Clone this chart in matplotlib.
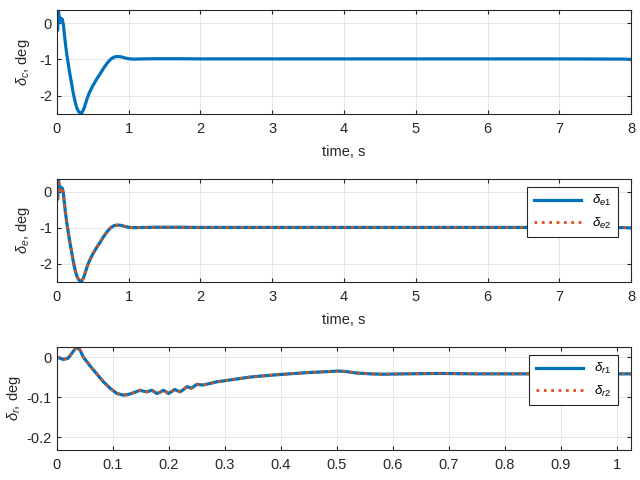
import matplotlib
matplotlib.use("Agg")
import matplotlib.pyplot as plt

# delta_c (deg) vs time (s), also used for the two coinciding elevator traces
t_c = [0, 0.01, 0.02, 0.03, 0.045, 0.06, 0.075, 0.09, 0.1, 0.12, 0.14, 0.16, 0.18,
       0.2, 0.22, 0.24, 0.26, 0.28, 0.3, 0.32, 0.34, 0.36, 0.38, 0.4, 0.42, 0.44,
       0.46, 0.48, 0.5, 0.53, 0.56, 0.6, 0.65, 0.7, 0.75, 0.8, 0.85, 0.9, 0.95,
       1.0, 1.05, 1.1, 1.2, 1.4, 1.7, 2.0, 3.0, 4.0, 5.0, 6.0, 7.0, 7.9, 8.0]
delta_c = [0.0, -0.2, 0.35, 0.2, 0.05, 0.13, 0.1, -0.05, -0.25, -0.6, -0.9, -1.15,
           -1.4, -1.62, -1.85, -2.05, -2.22, -2.35, -2.43, -2.47, -2.48, -2.42,
           -2.33, -2.2, -2.08, -1.97, -1.88, -1.8, -1.72, -1.62, -1.52, -1.4,
           -1.24, -1.1, -0.99, -0.93, -0.92, -0.93, -0.96, -0.98, -0.99, -0.99,
           -0.985, -0.98, -0.98, -0.985, -0.985, -0.985, -0.985, -0.985, -0.985,
           -0.99, -1.0]
delta_e1 = delta_c
delta_e2 = delta_c

# delta_r (deg) vs time (s)
t_r = [0, 0.011, 0.02, 0.028, 0.035, 0.041, 0.047, 0.059, 0.071, 0.083, 0.095,
       0.107, 0.118, 0.126, 0.133, 0.141, 0.148, 0.154, 0.16, 0.165, 0.169,
       0.174, 0.178, 0.184, 0.19, 0.195, 0.199, 0.205, 0.21, 0.215, 0.22,
       0.226, 0.232, 0.236, 0.24, 0.245, 0.25, 0.255, 0.26, 0.27, 0.285,
       0.3, 0.315, 0.33, 0.345, 0.36, 0.386, 0.415, 0.446, 0.475, 0.502,
       0.515, 0.535, 0.56, 0.583, 0.62, 0.684, 0.75, 0.85, 0.95, 1.025]
delta_r1 = [0.0, -0.006, -0.003, 0.012, 0.025, 0.018, 0.0, -0.022, -0.042,
            -0.062, -0.078, -0.091, -0.095, -0.094, -0.091, -0.087, -0.083,
            -0.085, -0.087, -0.085, -0.083, -0.087, -0.091, -0.088, -0.083,
            -0.087, -0.091, -0.086, -0.081, -0.084, -0.087, -0.081, -0.074,
            -0.076, -0.078, -0.073, -0.068, -0.069, -0.07, -0.067, -0.062,
            -0.059, -0.056, -0.053, -0.05, -0.048, -0.045, -0.042, -0.039,
            -0.037, -0.035, -0.036, -0.04, -0.042, -0.043, -0.042, -0.041,
            -0.042, -0.042, -0.042, -0.042]
delta_r2 = delta_r1

plt.rcParams['font.family'] = ['Liberation Sans', 'DejaVu Sans']
plt.rcParams['axes.unicode_minus'] = False
plt.rcParams['mathtext.fontset'] = 'custom'
plt.rcParams['mathtext.rm'] = 'Liberation Sans'
plt.rcParams['mathtext.it'] = 'Liberation Sans:italic'

blue = '#0072BD'
orange = '#D95319'
txt = '#262626'

fig = plt.figure(figsize=(6.4, 4.8), dpi=100)
ax1 = fig.add_axes([0.089, 0.7625, 0.897, 0.2167])
ax2 = fig.add_axes([0.089, 0.4125, 0.897, 0.2146])
ax3 = fig.add_axes([0.089, 0.0625, 0.897, 0.2146])


def style(ax):
    ax.grid(True, color='#e6e6e6', linewidth=0.7)
    ax.set_axisbelow(True)
    ax.tick_params(direction='in', top=True, right=True, labelsize=10.5,
                   colors=txt, length=3)
    ax.tick_params(axis='x', pad=6)
    for s in ax.spines.values():
        s.set_color(txt)
        s.set_linewidth(0.8)


ax1.plot(t_c, delta_c, color=blue, lw=2.3)
ax1.set_xlim(0, 8)
ax1.set_ylim(-2.5, 0.36)
ax1.set_yticks([-2, -1, 0])
ax1.set_xticks(range(9))
ax1.set_ylabel(r'$\delta_c$, deg', fontsize=10.5, color=txt, labelpad=5)
ax1.set_xlabel('time, s', fontsize=10.5, color=txt, labelpad=6)
style(ax1)

ax2.plot(t_c, delta_e1, color=blue, lw=2.3, label=r'$\delta_{e1}$')
ax2.plot(t_c, delta_e2, color=orange, lw=2.0, ls=':', label=r'$\delta_{e2}$')
ax2.set_xlim(0, 8)
ax2.set_ylim(-2.5, 0.36)
ax2.set_yticks([-2, -1, 0])
ax2.set_xticks(range(9))
ax2.set_ylabel(r'$\delta_e$, deg', fontsize=10.5, color=txt, labelpad=5)
ax2.set_xlabel('time, s', fontsize=10.5, color=txt, labelpad=6)
style(ax2)
leg = ax2.legend(loc='upper right', bbox_to_anchor=(0.977, 0.925), borderaxespad=0,
                 fontsize=9.5, handlelength=3.6, fancybox=False, framealpha=1,
                 edgecolor=txt, labelspacing=0.55, borderpad=0.5)
leg.get_frame().set_linewidth(0.8)

ax3.plot(t_r, delta_r1, color=blue, lw=2.3, label=r'$\delta_{r1}$')
ax3.plot(t_r, delta_r2, color=orange, lw=2.0, ls=':', label=r'$\delta_{r2}$')
ax3.set_xlim(0, 1.025)
ax3.set_ylim(-0.232, 0.025)
ax3.set_yticks([-0.2, -0.1, 0])
ax3.set_yticklabels(['-0.2', '-0.1', '0'])
ax3.set_xticks([0, 0.1, 0.2, 0.3, 0.4, 0.5, 0.6, 0.7, 0.8, 0.9, 1])
ax3.set_xticklabels(['0', '0.1', '0.2', '0.3', '0.4', '0.5', '0.6', '0.7',
                     '0.8', '0.9', '1'])
ax3.set_ylabel(r'$\delta_r$, deg', fontsize=10.5, color=txt, labelpad=3)
style(ax3)
leg = ax3.legend(loc='upper right', bbox_to_anchor=(0.977, 0.925), borderaxespad=0,
                 fontsize=9.5, handlelength=3.6, fancybox=False, framealpha=1,
                 edgecolor=txt, labelspacing=0.55, borderpad=0.5)
leg.get_frame().set_linewidth(0.8)

fig.savefig('out.png', dpi=100)
